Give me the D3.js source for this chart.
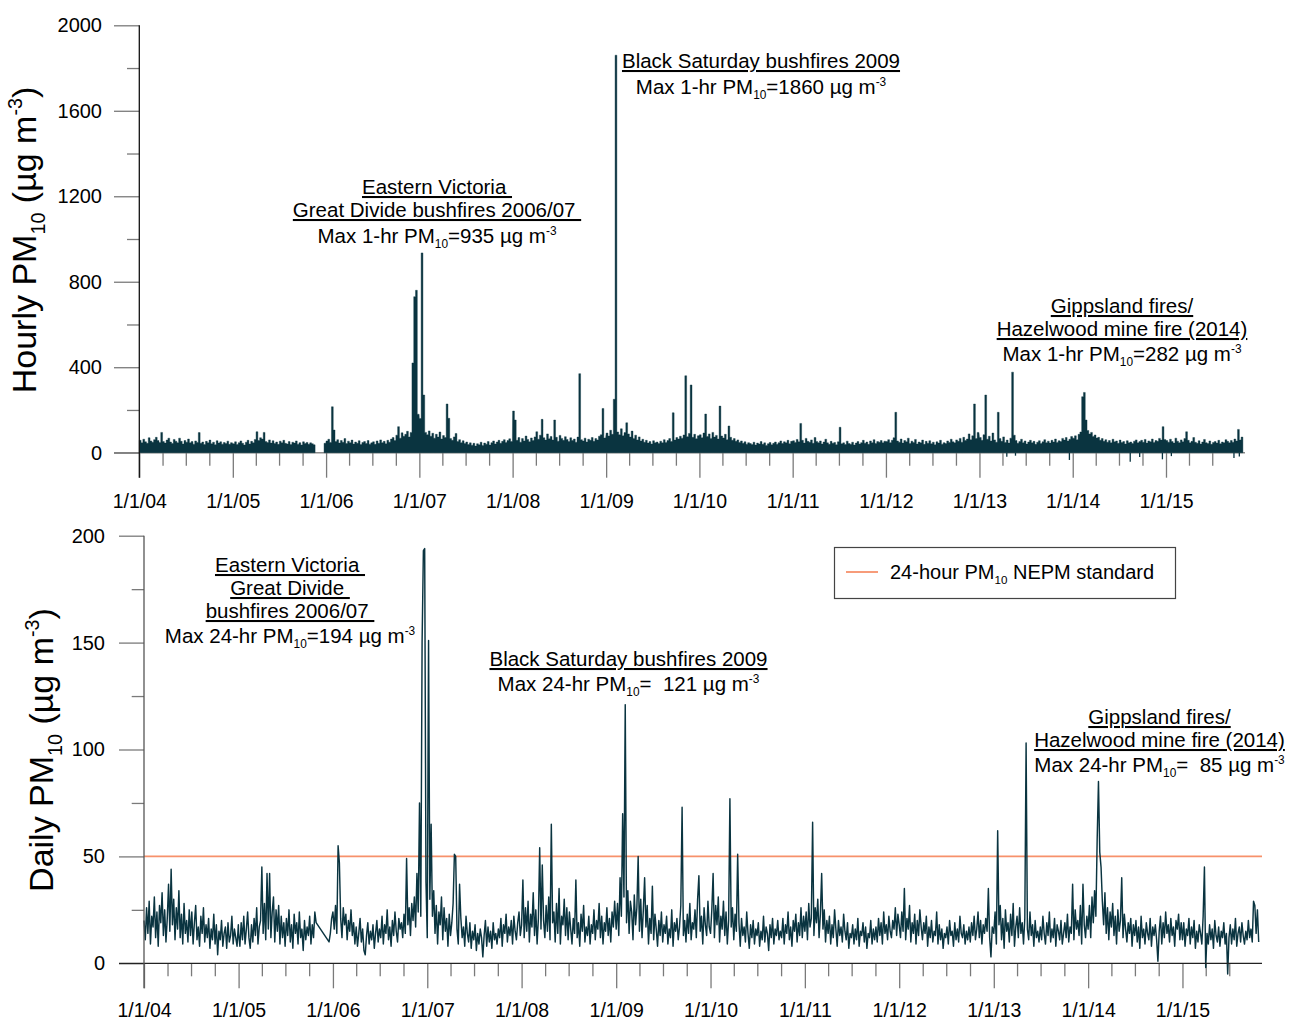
<!DOCTYPE html>
<html>
<head>
<meta charset="utf-8">
<script src="https://cdn.jsdelivr.net/npm/d3@7"></script>
<style>
  body { margin: 0; background: #fff; }
  svg { display: block; font-family: "Liberation Sans", Arial, sans-serif; }
  text { white-space: pre; }
</style>
</head>
<body>
<svg id="chart" width="1289" height="1021"></svg>
<script>
// ---------------- data ----------------
const years = [2004, 2005, 2006, 2007, 2008, 2009, 2010, 2011, 2012, 2013, 2014, 2015];
const yearTickLabels = ["1/1/04", "1/1/05", "1/1/06", "1/1/07", "1/1/08", "1/1/09",
                        "1/1/10", "1/1/11", "1/1/12", "1/1/13", "1/1/14", "1/1/15"];

// Hourly PM10: highest hourly reading in each week (weeks counted from 1 January of each year)
const hourlyWeeklyMax = [
  [58,46,63,51,44,70,55,49,61,72,57,48,95,52,45,59,68,50,43,62,54,47,68,53,41,57,49,64,46,52,40,55,48,94,44,50,38,53,46,59,42,49,37,56,45,51,40,48,43,54,39,47],
  [42,51,38,47,55,44,36,49,58,41,53,46,62,98,57,70,64,95,52,48,60,45,56,43,50,39,54,47,58,44,41,52,38,49,45,55,40,47,36,51,43,48,39,46,42,37,null,null,null,null,null,44],
  [55,63,48,215,106,52,61,45,57,49,66,43,54,47,59,41,50,44,56,38,48,52,43,57,40,46,51,39,55,44,60,47,53,42,58,49,64,71,57,82,122,68,93,77,86,100,74,95,420,730,760,180],
  [160,935,270,95,84,102,77,91,68,86,73,97,64,80,71,228,161,66,58,74,90,52,61,47,56,43,50,38,46,35,44,31,42,37,49,34,45,40,52,36,47,55,41,50,58,44,53,61,48,57,65,52],
  [195,153,58,71,49,66,55,78,62,51,69,57,74,98,63,82,156,70,59,88,65,76,60,153,72,54,81,67,58,75,62,52,70,57,64,49,73,370,61,55,68,50,63,58,71,53,66,60,77,84,207,69],
  [92,78,105,86,250,1860,97,84,112,79,94,140,88,73,101,67,82,60,74,55,63,49,58,45,52,41,56,47,50,43,54,46,61,48,57,66,52,187,59,71,64,77,68,83,360,75,90,317,72,86,65,79],
  [84,70,92,181,76,88,67,95,73,81,64,218,78,69,86,61,125,72,58,66,53,60,48,55,44,51,40,47,43,38,49,36,45,41,52,39,46,34,42,48,37,44,50,40,47,55,43,51,46,58,42,53],
  [56,48,62,51,137,58,45,67,53,49,60,44,71,52,47,55,41,50,63,46,39,53,44,48,37,51,119,42,46,38,54,43,40,49,36,45,52,41,47,58,44,50,39,55,47,61,43,52,49,57,46,54],
  [52,61,47,58,70,189,55,49,64,45,57,51,68,43,54,48,62,41,50,46,59,39,53,44,56,42,49,37,51,45,58,40,47,43,55,48,63,51,46,60,53,67,49,72,57,64,88,61,79,228,66,95],
  [71,58,84,270,63,77,55,92,60,49,189,66,53,74,48,59,45,68,377,82,57,44,52,63,47,55,41,50,58,46,53,39,49,56,43,51,61,47,54,45,58,50,64,48,56,52,67,59,71,55,63,76],
  [68,79,61,86,97,262,282,153,104,88,95,76,83,69,72,58,66,53,61,49,57,46,63,51,55,44,59,48,52,41,56,47,50,43,54,60,46,52,58,49,62,45,55,51,64,48,57,53,67,59,122,62],
  [57,49,63,52,45,68,54,47,60,51,66,98,58,46,53,71,49,44,56,41,50,62,47,43,55,39,48,52,45,58,42,50,47,61,53,46,57,49,64,55,109,60,73]
];

// Hourly PM10: negative instrument readings
const hourlyNegDates  = ["2013-04-18", "2013-05-22", "2013-12-19", "2014-08-14", "2014-09-20",
                         "2014-12-18", "2015-01-22", "2015-09-24", "2015-10-15"];
const hourlyNegValues = [-19, -14, -34, -42, -20, -31, -16, -25, -18];

// Daily PM10: 24-hour averages every fifth day from 1 January of each year
const dailyValues = [
  [20,11,26,14,29,9,22,17,31,12,24,8,27,19,33,13,25,10, 21,37,15,44,18,30,11,26,16,34,12,23,9,28,14,20,10,25, 13,24,9,19,27,11,17,8,22,14,26,10,18,12,21,7,16,11,23, 9,18,4,15,11,20,8,14,17,7,19,10,13,22,9,16,12,8,18],
  [14,8,19,11,22,9,16,24,12,7,18,10,21,13,26,9,17,20, 45,14,28,11,42,16,42,12,24,31,10,25,15,27,9,22,12,19, 8,21,13,25,10,18,7,23,14,19,9,24,12,16,6,20,11,17,13, 22,9,18,12,24,19,null,null,null,null,null,null,null,null,null,10,14,21],
  [24,16,27,14,55,47,21,12,26,18,23,11,20,15,25,13,19,9, 17,8,14,21,10,16,6,4,13,19,9,15,11,18,7,14,20,10, 16,12,22,9,18,14,25,11,17,8,20,13,24,15,10,21,16,19,12, 23,14,49,18,26,13,28,20,31,17,42,24,75,22,150,193,194,38],
  [12,151,30,65,22,34,14,27,9,24,18,31,11,26,15,21,8,23, 13,19,28,51,50,16,9,37,21,12,17,8,22,14,10,19,7,15, 11,18,6,14,9,16,12,3,13,20,8,17,10,15,7,19,11,14,9, 16,12,21,8,18,14,23,10,17,13,20,9,22,15,11,19,24,13],
  [18,39,12,26,15,29,10,23,17,33,13,25,9,21,54,16,46,20, 12,27,15,31,11,65,19,24,10,28,14,35,9,22,18,30,13,26, 11,24,16,9,21,14,39,12,19,8,23,15,27,10,17,13,22,9,18, 14,25,11,20,16,28,12,22,9,19,15,26,13,21,10,24,17,29],
  [16,28,13,40,22,70,31,121,19,34,14,29,24,11,32,18,26,50, 15,30,12,25,40,17,27,9,21,14,36,11,23,16,8,20,13,24, 10,18,14,22,9,16,12,25,8,19,15,21,11,17,27,73,13,20,10, 23,14,28,11,19,16,25,12,30,41,15,22,9,26,18,13,29,17],
  [14,25,42,12,27,18,31,10,22,16,29,13,24,9,20,77,17,26, 11,23,15,51,19,8,21,13,17,10,24,14,7,18,12,20,9,16, 13,19,8,15,11,22,10,17,14,6,18,12,21,9,16,13,20,11,15, 12,21,9,18,14,24,11,17,8,20,15,23,10,19,13,26,12,22],
  [15,24,11,28,17,21,66,13,26,19,30,12,23,42,16,25,10,20, 14,22,9,18,12,25,16,8,20,13,17,10,23,15,11,19,7,14, 12,18,9,16,11,21,8,15,13,19,10,17,7,14,12,20,9,16,11, 17,10,21,13,19,9,24,14,18,11,22,15,12,20,16,26,13,23],
  [18,12,24,15,35,11,21,16,27,10,19,14,23,9,20,13,25,17, 11,19,14,22,8,17,12,20,10,15,13,24,9,18,11,16,7,14, 12,17,9,20,13,15,8,19,11,16,10,22,14,12,18,9,15,11,17, 10,19,13,22,11,16,24,12,20,9,18,14,21,15,35,12,3,17],
  [14,24,9,62,18,27,11,21,7,25,15,19,10,23,13,28,8,17, 22,12,26,14,19,9,21,103,16,11,24,13,18,8,20,12,15,10, 17,11,22,14,9,19,13,24,10,16,12,21,8,18,15,11,20,9,14, 19,12,23,10,17,14,37,11,25,16,20,13,27,9,37,18,12,22],
  [16,27,12,31,19,34,22,58,85,52,45,29,18,33,14,26,11,24, 17,28,13,22,9,25,15,20,40,12,23,16,10,19,14,21,8,18, 13,20,10,17,7,22,12,16,9,19,14,11,21,8,17,13,18,11,1, 15,22,9,19,12,24,14,18,10,21,13,17,8,20,16,23,11,19],
  [11,19,8,16,13,21,9,17,12,20,7,15,10,18,14,9,22,45, -2,14,9,18,11,16,7,20,13,10,17,8,15,12,19,9,14,-5, 12,18,9,16,11,21,8,14,17,10,19,13,9,15,11,20,12,16,10,29,27,14,25,10]
];

const hourlyTicks = [0, 400, 800, 1200, 1600, 2000];
const hourlyMinorTicks = [200, 600, 1000, 1400, 1800];
const dailyTicks = [0, 50, 100, 150, 200];
const dailyMinorTicks = [25, 75, 125, 175];
const nepmStandard = 50;

// ---------------- setup ----------------
const svg = d3.select("#chart");
const ink = "#0a3440";
const tickGrey = "#7a7a7a";
const nepmColour = "#f7916b";
const utc = (y, m, d) => new Date(Date.UTC(y, m, d));
const parseDay = d3.utcParse("%Y-%m-%d");

const domainX = [utc(2004, 0, 1), utc(2016, 0, 1)];
const yearDates = years.map(y => utc(y, 0, 1));
const quarterDates = d3.utcMonths(utc(2004, 0, 1), utc(2015, 7, 1), 3)
  .filter(d => d.getUTCMonth() !== 0);

// each weekly maximum spans its week: start and end corners of the step
const hourlySteps = [];
years.forEach((yr, i) => hourlyWeeklyMax[i].forEach((v, k) => {
  if (v === null) { hourlySteps.push({ t: utc(yr, 0, 1 + 7 * k), v: null }); return; }
  hourlySteps.push({ t: utc(yr, 0, 1 + 7 * k), v }, { t: utc(yr, 0, 8 + 7 * k), v });
}));

const dailyPoints = years.flatMap((yr, i) => dailyValues[i].map((v, k) => ({
  date: utc(yr, 0, 1 + 5 * k), v
}))).filter(d => d.v !== null);

// rich text with sub/superscripts
function richText(g, x, y, parts, opts = {}) {
  const size = opts.size || 20.5;
  const t = g.append("text")
    .attr("x", x).attr("y", y)
    .attr("text-anchor", opts.anchor || "middle")
    .attr("font-size", size)
    .attr("fill", "#000");
  if (opts.underline) t.attr("text-decoration", "underline");
  let shift = 0;
  parts.forEach(p => {
    const [str, kind] = typeof p === "string" ? [p, "n"] : p;
    const target = kind === "sub" ? size * 0.26 : kind === "sup" ? -size * 0.4 : 0;
    t.append("tspan")
      .attr("dy", target - shift)
      .attr("font-size", kind === "n" ? size : size * 0.58)
      .text(str);
    shift = target;
  });
  return t;
}

function styleAxis(g, fontSize) {
  g.select(".domain").remove();
  g.selectAll(".tick line").attr("stroke", tickGrey).attr("stroke-width", 1.3);
  g.selectAll(".tick text").attr("fill", "#000").attr("font-size", fontSize)
    .attr("font-family", '"Liberation Sans", Arial, sans-serif');
}

// ---------------- hourly panel ----------------
const xH = d3.scaleUtc().domain(domainX).range([139.3, 139.3 + 12 * 93.33]);
const yH = d3.scaleLinear().domain([0, 2000]).range([452.7, 25.3]);
const hourlyPanel = svg.append("g");

// zero line
hourlyPanel.append("line")
  .attr("x1", 114).attr("x2", 1245)
  .attr("y1", yH(0)).attr("y2", yH(0))
  .attr("stroke", "#8a8a8a").attr("stroke-width", 1.6);

// y axis ticks
hourlyPanel.append("g").attr("transform", `translate(${xH.range()[0]},0)`)
  .call(d3.axisLeft(yH).tickValues(hourlyTicks).tickSize(25.3).tickPadding(12).tickFormat(d3.format("d")))
  .call(g => styleAxis(g, 20));
hourlyPanel.append("g").attr("transform", `translate(${xH.range()[0]},0)`)
  .call(d3.axisLeft(yH).tickValues(hourlyMinorTicks).tickSize(12.3).tickFormat(""))
  .call(g => styleAxis(g, 20));

// x axis ticks
hourlyPanel.append("g").attr("transform", `translate(0,${yH(0)})`)
  .call(d3.axisBottom(xH).tickValues(yearDates).tickSize(25).tickPadding(16)
    .tickFormat((d, i) => yearTickLabels[i]))
  .call(g => styleAxis(g, 19.5));
hourlyPanel.append("g").attr("transform", `translate(0,${yH(0)})`)
  .call(d3.axisBottom(xH).tickValues(quarterDates).tickSize(13).tickFormat(""))
  .call(g => styleAxis(g, 19.5));

// weekly maxima as a stepped band
hourlyPanel.append("path")
  .datum(hourlySteps)
  .attr("d", d3.area()
    .defined(d => d.v !== null)
    .x(d => xH(d.t))
    .y0(yH(0))
    .y1(d => yH(d.v)))
  .attr("fill", ink)
  .attr("stroke", ink)
  .attr("stroke-width", 0.4);

// negative readings
hourlyPanel.append("g").selectAll("line").data(hourlyNegDates.map((d, i) => ({ date: parseDay(d), v: hourlyNegValues[i] })))
  .join("line")
  .attr("x1", d => xH(d.date)).attr("x2", d => xH(d.date))
  .attr("y1", yH(0)).attr("y2", d => yH(d.v))
  .attr("stroke", ink).attr("stroke-width", 1.3);

// y axis line
hourlyPanel.append("line")
  .attr("x1", xH.range()[0]).attr("x2", xH.range()[0])
  .attr("y1", yH(2000)).attr("y2", yH(0) + 25)
  .attr("stroke", "#111").attr("stroke-width", 1.3);

// axis title
richText(hourlyPanel.append("g").attr("transform", "translate(36,240) rotate(-90)"), 0, 0,
  ["Hourly PM", ["10", "sub"], " (\u00b5g m", ["-3", "sup"], ")"], { size: 34 });

// annotations
const ta = hourlyPanel.append("g");
richText(ta, 437, 194, ["Eastern Victoria "], { underline: true });
richText(ta, 437, 217, ["Great Divide bushfires 2006/07 "], { underline: true });
richText(ta, 437, 243, ["Max 1-hr PM", ["10", "sub"], "=935 \u00b5g m", ["-3", "sup"]]);
richText(ta, 761, 68, ["Black Saturday bushfires 2009"], { underline: true });
richText(ta, 761, 94, ["Max 1-hr PM", ["10", "sub"], "=1860 \u00b5g m", ["-3", "sup"]]);
richText(ta, 1122, 313, ["Gippsland fires/"], { underline: true });
richText(ta, 1122, 336, ["Hazelwood mine fire (2014)"], { underline: true });
richText(ta, 1122, 361, ["Max 1-hr PM", ["10", "sub"], "=282 \u00b5g m", ["-3", "sup"]]);

// ---------------- daily panel ----------------
const xD = d3.scaleUtc().domain(domainX).range([144, 144 + 12 * 94.4]);
const yD = d3.scaleLinear().domain([0, 200]).range([963.3, 535.7]);
const dailyPanel = svg.append("g");

dailyPanel.append("g").attr("transform", `translate(${xD.range()[0]},0)`)
  .call(d3.axisLeft(yD).tickValues(dailyTicks).tickSize(25).tickPadding(14).tickFormat(d3.format("d")))
  .call(g => styleAxis(g, 20));
dailyPanel.append("g").attr("transform", `translate(${xD.range()[0]},0)`)
  .call(d3.axisLeft(yD).tickValues(dailyMinorTicks).tickSize(12.3).tickFormat(""))
  .call(g => styleAxis(g, 20));

dailyPanel.append("g").attr("transform", `translate(0,${yD(0)})`)
  .call(d3.axisBottom(xD).tickValues(yearDates).tickSize(25).tickPadding(15)
    .tickFormat((d, i) => yearTickLabels[i]))
  .call(g => styleAxis(g, 19.5));
dailyPanel.append("g").attr("transform", `translate(0,${yD(0)})`)
  .call(d3.axisBottom(xD).tickValues(quarterDates).tickSize(13).tickFormat(""))
  .call(g => styleAxis(g, 19.5));

// NEPM standard
dailyPanel.append("line")
  .attr("x1", xD.range()[0]).attr("x2", 1262)
  .attr("y1", yD(nepmStandard)).attr("y2", yD(nepmStandard))
  .attr("stroke", nepmColour).attr("stroke-width", 1.8);

// daily series
dailyPanel.append("path")
  .datum(dailyPoints)
  .attr("d", d3.line().x(d => xD(d.date)).y(d => yD(d.v)))
  .attr("fill", "none")
  .attr("stroke", ink)
  .attr("stroke-width", 1.45)
  .attr("stroke-linejoin", "round");

// axis lines
dailyPanel.append("line")
  .attr("x1", 119).attr("x2", 1262)
  .attr("y1", yD(0)).attr("y2", yD(0))
  .attr("stroke", "#222").attr("stroke-width", 1.3);
dailyPanel.append("line")
  .attr("x1", xD.range()[0]).attr("x2", xD.range()[0])
  .attr("y1", yD(200)).attr("y2", yD(0) + 25)
  .attr("stroke", "#555").attr("stroke-width", 1.3);

richText(dailyPanel.append("g").attr("transform", "translate(53,750) rotate(-90)"), 0, 0,
  ["Daily PM", ["10", "sub"], " (\u00b5g m", ["-3", "sup"], ")"], { size: 34 });

// annotations
const ba = dailyPanel.append("g");
richText(ba, 290, 572, ["Eastern Victoria "], { underline: true });
richText(ba, 290, 595, ["Great Divide "], { underline: true });
richText(ba, 290, 618, ["bushfires 2006/07 "], { underline: true });
richText(ba, 290, 643, ["Max 24-hr PM", ["10", "sub"], "=194 \u00b5g m", ["-3", "sup"]]);
richText(ba, 628.5, 666, ["Black Saturday bushfires 2009"], { underline: true });
richText(ba, 628.5, 691, ["Max 24-hr PM", ["10", "sub"], "=  121 \u00b5g m", ["-3", "sup"]]);
richText(ba, 1159.5, 724, ["Gippsland fires/"], { underline: true });
richText(ba, 1159.5, 747, ["Hazelwood mine fire (2014)"], { underline: true });
richText(ba, 1159.5, 772, ["Max 24-hr PM", ["10", "sub"], "=  85 \u00b5g m", ["-3", "sup"]]);

// legend
const lg = dailyPanel.append("g");
lg.append("rect").attr("x", 834.5).attr("y", 547.5).attr("width", 341).attr("height", 51)
  .attr("fill", "#fff").attr("stroke", "#444").attr("stroke-width", 1.2);
lg.append("line").attr("x1", 846).attr("x2", 878).attr("y1", 572).attr("y2", 572)
  .attr("stroke", nepmColour).attr("stroke-width", 1.8);
richText(lg, 890, 579, ["24-hour PM", ["10", "sub"], " NEPM standard"], { size: 20, anchor: "start" });
</script>
</body>
</html>
